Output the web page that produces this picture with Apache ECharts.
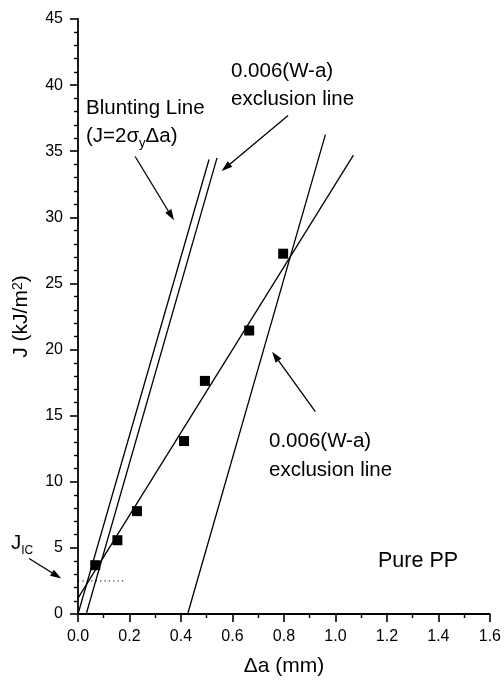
<!DOCTYPE html>
<html><head><meta charset="utf-8">
<script src="https://cdn.jsdelivr.net/npm/echarts@6/dist/echarts.min.js"></script>
<style>html,body{margin:0;padding:0;background:#fff}#c{width:504px;height:683px}</style>
</head><body><div id="c"></div>
<script>
// Data
const crackExt = [0.067, 0.153, 0.229, 0.412, 0.493, 0.665, 0.797];   // Δa (mm)
const jValues  = [3.69, 5.58, 7.78, 13.08, 17.63, 21.44, 27.25];       // J (kJ/m²)
const regressionLine = [[0, 1.2], [1.07, 34.7]];
const bluntingLine   = [[0, 0], [0.509, 34.37]];
const exclusionLine1 = [[0.032, 0], [0.54, 34.5]];
const exclusionLine2 = [[0.426, 0], [0.961, 36.26]];
const jicLine        = [[0, 2.5], [0.185, 2.5]];
const xTickValues = [0, 0.2, 0.4, 0.6, 0.8, 1.0, 1.2, 1.4, 1.6];
const yTickValues = [0, 5, 10, 15, 20, 25, 30, 35, 40, 45];
// annotation arrows (data space): [from, to]
const arrowBlunting  = [[0.222, 34.6], [0.373, 29.77]];
const arrowExclTop   = [[0.816, 37.7], [0.558, 33.5]];
const arrowExclBot   = [[0.922, 15.3], [0.754, 19.83]];
const arrowJic       = [[-0.19, 4.2], [-0.065, 2.68]];

const FONT = "'Liberation Sans', Arial, sans-serif";
const chart = echarts.init(document.getElementById('c'), null, {renderer: 'canvas'});
const lineS = (d, extra) => Object.assign({
  type: 'line', data: d, symbol: 'none', silent: true, animation: false,
  lineStyle: {color: '#000', width: 1.3}
}, extra || {});

const axisCommon = {
  axisLine: {show: true, onZero: false, lineStyle: {color: '#000', width: 1.8}},
  axisTick: {show: true, inside: false, length: 8, lineStyle: {color: '#000', width: 1.6}},
  minorTick: {show: true, length: 4, lineStyle: {color: '#000', width: 1.4}},
  splitLine: {show: false},
  axisLabel: {color: '#000', fontSize: 16, fontFamily: FONT}
};

chart.setOption({
  animation: false,
  backgroundColor: '#fff',
  grid: {left: 78, right: 14, top: 19, bottom: 69, containLabel: false},
  xAxis: Object.assign({}, axisCommon, {
    type: 'value', min: xTickValues[0], max: xTickValues[xTickValues.length - 1], interval: 0.2,
    minorTick: Object.assign({}, axisCommon.minorTick, {splitNumber: 2}),
    axisLabel: Object.assign({}, axisCommon.axisLabel, {margin: 15, formatter: v => v.toFixed(1)}),
    name: 'Δa (mm)', nameLocation: 'middle', nameGap: 42,
    nameTextStyle: {color: '#000', fontSize: 21, fontFamily: FONT}
  }),
  yAxis: Object.assign({}, axisCommon, {
    type: 'value', min: yTickValues[0], max: yTickValues[yTickValues.length - 1], interval: 5,
    minorTick: Object.assign({}, axisCommon.minorTick, {splitNumber: 5}),
    axisLabel: Object.assign({}, axisCommon.axisLabel, {margin: 15}),
    name: 'J (kJ/m{sup|2})', nameLocation: 'middle', nameGap: 46, nameRotate: 90,
    nameTextStyle: {color: '#000', fontSize: 21, fontFamily: FONT,
      rich: {sup: {fontSize: 14, fontFamily: FONT, color: '#000', verticalAlign: 'top', lineHeight: 12}}}
  }),
  series: [
    lineS(regressionLine),
    lineS(bluntingLine),
    lineS(exclusionLine1),
    lineS(exclusionLine2),
    lineS(jicLine, {lineStyle: {color: '#000', width: 1, type: [1.2, 3.2]}}),
    {type: 'scatter', data: crackExt.map((x, i) => [x, jValues[i]]), symbol: 'rect', symbolSize: 10,
     itemStyle: {color: '#000', opacity: 1}, silent: true, animation: false, z: 5}
  ]
});

// Annotations
const px = p => chart.convertToPixel({gridIndex: 0}, p);
function arrow(seg) {
  const a = px(seg[0]), b = px(seg[1]);
  const ang = Math.atan2(b[1] - a[1], b[0] - a[0]);
  const L = 11, W = 3.6;
  const bx = b[0] - L * Math.cos(ang), by = b[1] - L * Math.sin(ang);
  const nx = -Math.sin(ang), ny = Math.cos(ang);
  return [
    {type: 'line', shape: {x1: a[0], y1: a[1], x2: bx, y2: by}, style: {stroke: '#000', lineWidth: 1.3}, silent: true},
    {type: 'polygon', shape: {points: [[b[0], b[1]], [bx + nx * W, by + ny * W], [bx - nx * W, by - ny * W]]},
     style: {fill: '#000'}, silent: true}
  ];
}
const txt = (x, y, text, extra) => ({
  type: 'text', x: x, y: y, silent: true,
  style: Object.assign({text: text, fill: '#000', fontSize: 20.5, fontFamily: FONT,
    align: 'left', verticalAlign: 'top', lineHeight: 28}, extra || {})
});
const subRich = {sub: {fontSize: 13, fontFamily: FONT, fill: '#000', lineHeight: 12, verticalAlign: 'bottom'}};
const graphics = [].concat(
  arrow(arrowBlunting), arrow(arrowExclTop), arrow(arrowExclBot), arrow(arrowJic),
  [
    txt(231, 57, '0.006(W-a)\nexclusion line'),
    txt(86, 94, 'Blunting Line'),
    txt(86, 122, '(J=2σ{sub|y}Δa)', {rich: subRich}),
    txt(269, 427, '0.006(W-a)\nexclusion line', {lineHeight: 29}),
    txt(378, 547, 'Pure PP', {fontSize: 21.5}),
    txt(11, 529, 'J{sub|IC}', {rich: {sub: {fontSize: 12, fontFamily: FONT, fill: '#000', lineHeight: 12, verticalAlign: 'bottom'}}})
  ]
);
chart.setOption({graphic: graphics});
</script>
</body></html>
